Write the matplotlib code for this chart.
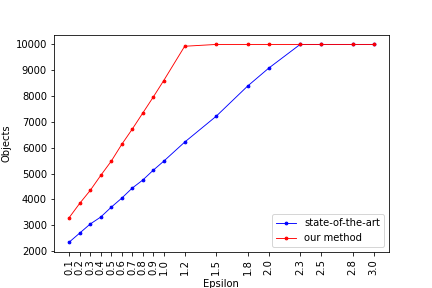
import matplotlib
matplotlib.use("Agg")
import matplotlib.pyplot as plt

# epsilon values on the x axis
epsilon = [0.1, 0.2, 0.3, 0.4, 0.5, 0.6, 0.7, 0.8, 0.9, 1.0,
           1.2, 1.5, 1.8, 2.0, 2.3, 2.5, 2.8, 3.0]

# number of objects found
state_of_the_art = [2350, 2700, 3050, 3320, 3700, 4050, 4440, 4750, 5130, 5480,
                    6220, 7220, 8390, 9080, 10000, 10000, 10000, 10000]
our_method = [3300, 3850, 4350, 4930, 5480, 6130, 6720, 7340, 7960, 8600,
              9930, 10000, 10000, 10000, 10000, 10000, 10000, 10000]

fig = plt.figure(figsize=(6, 4), dpi=72)
ax = fig.add_subplot(1, 1, 1)
fig.subplots_adjust(left=0.125, right=0.9, top=0.88, bottom=0.125)

ax.plot(epsilon, state_of_the_art, '.-', color='blue', lw=0.9, ms=5.5,
        label='state-of-the-art')
ax.plot(epsilon, our_method, '.-', color='red', lw=0.9, ms=5.5,
        label='our method')

ax.set_xticks(epsilon)
ax.set_xticklabels([str(e) for e in epsilon], rotation=90)
ax.set_xlabel('Epsilon')
ax.set_ylabel('Objects')
ax.legend(loc='lower right')

fig.savefig('out.png', dpi=72)
